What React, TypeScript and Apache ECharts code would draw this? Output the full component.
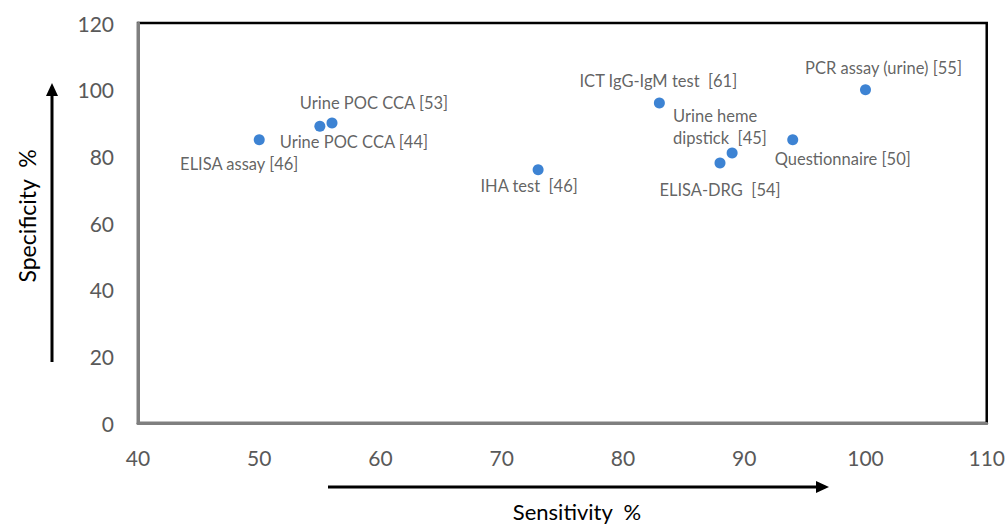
import React, { useEffect, useRef } from "react";
import * as echarts from "echarts";

const testNames = [
  "ELISA assay [46]",
  "Urine POC CCA [44]",
  "Urine POC CCA [53]",
  "IHA test  [46]",
  "ICT IgG-IgM test  [61]",
  "Urine heme\ndipstick  [45]",
  "ELISA-DRG  [54]",
  "Questionnaire [50]",
  "PCR assay (urine) [55]",
];
const sensitivity = [50, 55, 56, 73, 83, 89, 88, 94, 100];
const specificity = [85, 89, 90, 76, 96, 81, 78, 85, 100];
const labelOffsets: [number, number][] = [
  [-20, 24],
  [34, 16],
  [42, -20],
  [-9, 16],
  [-1, -22],
  [-59, -26],
  [0, 27],
  [50, 19],
  [18, -22],
];
const labelAligns = ["center", "center", "center", "center", "center", "left", "center", "center", "center"];

export default function App() {
  const ref = useRef<HTMLDivElement>(null);
  useEffect(() => {
    if (!ref.current) return;
    const chart = echarts.init(ref.current, undefined, { renderer: "svg" });
    const data = testNames.map((n, i) => ({
      name: n,
      value: [sensitivity[i], specificity[i]],
      label: {
        offset: labelOffsets[i],
        align: labelAligns[i],
      },
    }));
    chart.setOption({
      animation: false,
      backgroundColor: "#ffffff",
      grid: {
        left: 138,
        top: 23,
        right: 21,
        bottom: 103,
        show: true,
        borderColor: "#000000",
        borderWidth: 2.5,
      },
      xAxis: {
        type: "value",
        min: 40,
        max: 110,
        interval: 10,
        axisLine: { show: true, onZero: false, lineStyle: { color: "#7f7f7f", width: 3 } },
        axisTick: { show: false },
        splitLine: { show: false },
        axisLabel: { color: "#595959", fontSize: 21, fontFamily: "Lato", margin: 24 },
      },
      yAxis: {
        type: "value",
        min: 0,
        max: 120,
        interval: 20,
        axisLine: { show: true, onZero: false, lineStyle: { color: "#7f7f7f", width: 3 } },
        axisTick: { show: false },
        splitLine: { show: false },
        axisLabel: { color: "#595959", fontSize: 21, fontFamily: "Lato", margin: 24 },
      },
      series: [
        {
          type: "scatter",
          symbol: "circle",
          symbolSize: 11,
          itemStyle: { color: "#0c64c8" },
          data,
          label: {
            show: true,
            position: "inside",
            formatter: "{b}",
            color: "#3a3a3a",
            fontSize: 16.5,
            fontFamily: "Lato",
            lineHeight: 22,
            verticalAlign: "middle",
          },
        },
      ],
      graphic: [
        {
          type: "line",
          shape: { x1: 52, y1: 362, x2: 52, y2: 94 },
          style: { stroke: "#000", lineWidth: 3 },
        },
        {
          type: "polygon",
          shape: { points: [[52, 83], [46, 96], [58, 96]] },
          style: { fill: "#000" },
        },
        {
          type: "line",
          shape: { x1: 328, y1: 487, x2: 816, y2: 487 },
          style: { stroke: "#000", lineWidth: 3 },
        },
        {
          type: "polygon",
          shape: { points: [[829, 487], [816, 481], [816, 493]] },
          style: { fill: "#000" },
        },
        {
          type: "text",
          x: 27,
          y: 216,
          rotation: Math.PI / 2,
          style: {
            text: "Specificity  %",
            fill: "#000",
            fontSize: 23,
            fontFamily: "Lato",
            align: "center",
            verticalAlign: "middle",
          },
        },
        {
          type: "text",
          x: 577,
          y: 511,
          style: {
            text: "Sensitivity  %",
            fill: "#000",
            fontSize: 22,
            fontFamily: "Lato",
            align: "center",
            verticalAlign: "middle",
          },
        },
      ],
    });
    return () => chart.dispose();
  }, []);
  return (
    <div
      ref={ref}
      style={{ position: "fixed", left: 0, top: 0, width: 1008, height: 526, background: "#fff" }}
    />
  );
}
